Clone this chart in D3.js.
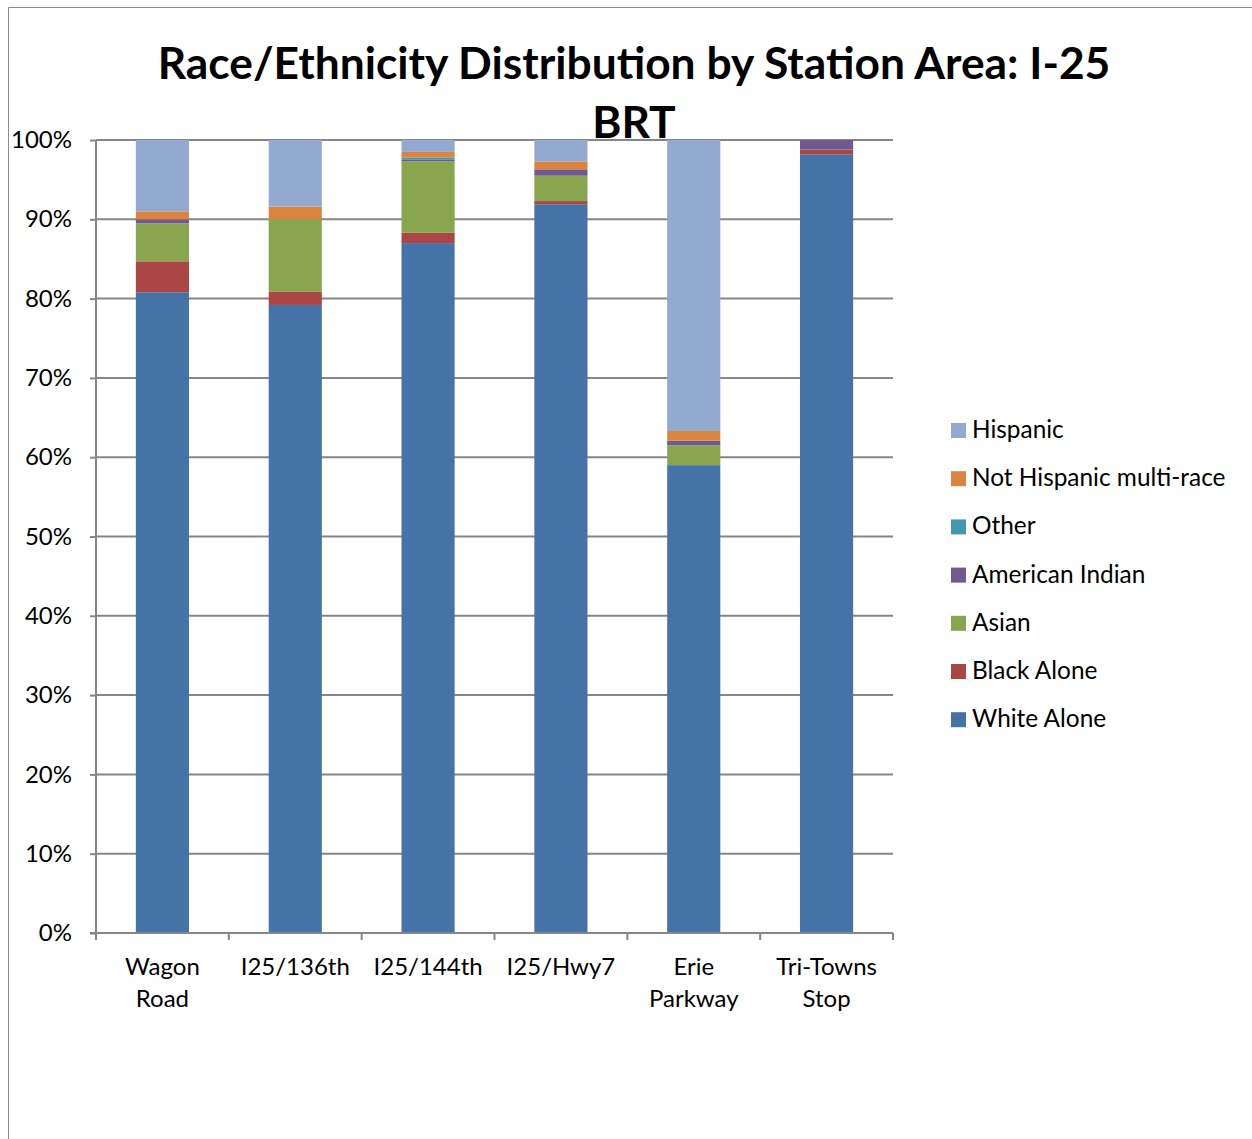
<!DOCTYPE html>
<html><head><meta charset="utf-8">
<script src="https://cdn.jsdelivr.net/npm/d3@7"></script>
<style>body{margin:0;background:#fff}svg{display:block}</style>
</head><body>
<script>
const categories = [["Wagon","Road"],["I25/136th"],["I25/144th"],["I25/Hwy7"],["Erie","Parkway"],["Tri-Towns","Stop"]];
const seriesNames = ["White Alone","Black Alone","Asian","American Indian","Other","Not Hispanic multi-race","Hispanic"];
const whiteAlone   = [80.8, 79.2, 87.0, 91.9, 59.0, 98.2];
const blackAlone   = [3.9, 1.7, 1.3, 0.4, 0.0, 0.6];
const asian        = [4.8, 9.1, 9.0, 3.2, 2.5, 0.0];
const amIndian     = [0.5, 0.0, 0.2, 0.8, 0.6, 1.2];
const other        = [0.0, 0.0, 0.3, 0.0, 0.0, 0.0];
const multiRace    = [1.0, 1.6, 0.7, 1.0, 1.2, 0.0];
const hispanic     = [9.0, 8.4, 1.5, 2.7, 36.7, 0.0];
const yTicks = [0,10,20,30,40,50,60,70,80,90,100];
const colors = ["#4572A7","#AA4643","#89A54E","#71588F","#4198AF","#DB843D","#93A9CF"];

(function(){
const W=1252,H=1139;
const svg=d3.select("body").append("svg").attr("width",W).attr("height",H);
const font="Lato, 'Open Sans', sans-serif";
svg.append("path").attr("d",`M8.5,${H} V7.5 H${W}`).attr("fill","none").attr("stroke","#8c8c8c").attr("stroke-width",1);

const pL=96,pR=893,pT=140,pB=933;
const x=d3.scaleBand().domain(d3.range(categories.length)).range([pL,pR]).padding(0);
const y=d3.scaleLinear().domain([0,100]).range([pB,pT]);

svg.append("g").selectAll("line").data(yTicks.filter(d=>d>0)).join("line")
 .attr("x1",pL).attr("x2",pR).attr("y1",d=>y(d)).attr("y2",d=>y(d))
 .attr("stroke","#868686").attr("stroke-width",2);

const rows=categories.map((c,i)=>({i,"White Alone":whiteAlone[i],"Black Alone":blackAlone[i],"Asian":asian[i],"American Indian":amIndian[i],"Other":other[i],"Not Hispanic multi-race":multiRace[i],"Hispanic":hispanic[i]}));
const stack=d3.stack().keys(seriesNames)(rows);
const bw=x.bandwidth()*0.4;
svg.append("g").selectAll("g").data(stack).join("g").attr("fill",(d,k)=>colors[k])
 .selectAll("rect").data(d=>d).join("rect")
 .attr("x",d=>x(d.data.i)+x.bandwidth()/2-bw/2).attr("width",bw)
 .attr("y",d=>y(d[1])).attr("height",d=>Math.max(0,y(d[0])-y(d[1])));

const ya=svg.append("g").attr("transform",`translate(${pL},0)`)
 .call(d3.axisLeft(y).tickValues(yTicks).tickFormat(d=>d+"%").tickSize(6).tickPadding(18));
ya.select(".domain").attr("stroke","#868686").attr("stroke-width",2).attr("d",`M0,${pT}V${pB}`);
ya.selectAll(".tick line").attr("stroke","#868686").attr("stroke-width",2);
ya.selectAll(".tick text").attr("font-family",font).attr("font-size",24).attr("fill","#000");

const xa=svg.append("g").attr("transform",`translate(0,${pB})`);
xa.append("line").attr("x1",pL-6).attr("x2",pR).attr("stroke","#868686").attr("stroke-width",2);
xa.selectAll(".tk").data(d3.range(categories.length+1)).join("line")
 .attr("x1",i=>pL+i*x.step()).attr("x2",i=>pL+i*x.step()).attr("y1",0).attr("y2",7)
 .attr("stroke","#868686").attr("stroke-width",2);
xa.selectAll(".lbl").data(categories).join("text")
 .attr("font-family",font).attr("font-size",24).attr("text-anchor","middle")
 .attr("transform",(d,i)=>`translate(${x(i)+x.bandwidth()/2},0)`)
 .selectAll("tspan").data(d=>d).join("tspan").attr("x",0).attr("y",(d,j)=>42+j*32).text(d=>d);

const t1=svg.append("text").attr("x",634).attr("y",79).attr("text-anchor","middle")
 .attr("font-family",font).attr("font-weight","bold").attr("font-size",40).text("Race/Ethnicity Distribution by Station Area: I-25");
const wt=t1.node().getComputedTextLength();
const fs=40*953/wt;
t1.attr("font-size",fs);
svg.append("text").attr("x",634).attr("y",138).attr("text-anchor","middle")
 .attr("font-family",font).attr("font-weight","bold").attr("font-size",fs).text("BRT");

const legOrder=[6,5,4,3,2,1,0];
const lg=svg.append("g");
legOrder.forEach((k,j)=>{
  const yy=430+j*48.2;
  lg.append("rect").attr("x",951).attr("y",yy-7).attr("width",15).attr("height",15).attr("fill",colors[k]);
  lg.append("text").attr("x",972).attr("y",yy+8).attr("font-family",font).attr("font-size",24.4).text(seriesNames[k]);
});
})();
</script>
</body></html>
